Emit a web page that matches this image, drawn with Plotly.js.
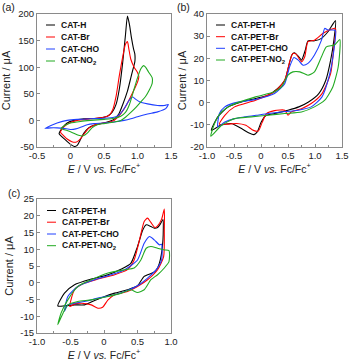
<!DOCTYPE html>
<html>
<head>
<meta charset="utf-8">
<script src="https://cdn.plot.ly/plotly-3.0.1.min.js"></script>
<style>
  html, body { margin: 0; padding: 0; background: #fff; }
  #chart { width: 351px; height: 364px; }
</style>
</head>
<body>
<div id="chart"></div>
<script>
// ---- data: panel (a), CAT monomers ----
const aNames = ['CAT-H', 'CAT-Br', 'CAT-CHO', 'CAT-NO<sub>2</sub>'];
const aE_H  = [-0.17,-0.12,-0.05,0.05,0.2,0.4,0.55,0.62,0.68,0.73,0.78,0.82,0.85,0.88,0.91,0.94,0.96,0.96,0.93,0.9,0.85,0.78,0.72,0.65,0.55,0.45,0.35,0.27,0.2,0.14,0.1,0.06,0.0,-0.08,-0.17];
const aI_H  = [-25,-14,-5,0,3,4,8,15,30,60,110,160,196,180,155,135,125,110,95,80,55,30,12,2,-3,-6,-9,-14,-24,-38,-47,-49,-45,-36,-25];
const aE_Br = [-0.15,-0.1,0,0.1,0.3,0.5,0.58,0.63,0.68,0.73,0.78,0.82,0.85,0.87,0.9,0.95,1.0,1.02,1.0,0.95,0.9,0.84,0.78,0.72,0.65,0.55,0.45,0.35,0.27,0.2,0.13,0.08,0.02,-0.05,-0.1,-0.15];
const aI_Br = [-22,-12,-4,0,3,6,10,20,45,85,120,143,148,135,115,100,90,82,72,58,45,30,18,8,0,-4,-6,-9,-15,-26,-37,-41,-40,-35,-29,-22];
const aE_CHO = [-0.38,-0.3,-0.2,-0.05,0.1,0.3,0.5,0.65,0.72,0.8,0.86,0.9,0.93,0.97,1.03,1.15,1.3,1.4,1.46,1.42,1.3,1.15,1.0,0.9,0.8,0.65,0.5,0.35,0.25,0.15,0.08,0.0,-0.1,-0.2,-0.3,-0.38];
const aI_CHO = [-15,-10,-5,0,2,3,4,6,10,22,35,42,44,40,35,31,28,28,30,22,16,12,7,3,0,-3,-5,-6,-8,-13,-16,-17,-15,-14,-14,-15];
const aE_NO2 = [-0.14,-0.08,0,0.15,0.3,0.5,0.65,0.75,0.82,0.88,0.94,1.0,1.05,1.09,1.12,1.17,1.22,1.22,1.18,1.12,1.05,0.98,0.9,0.82,0.75,0.65,0.5,0.4,0.32,0.25,0.19,0.12,0.03,-0.05,-0.14];
const aI_NO2 = [-15,-9,-5,-2,0,2,4,8,15,30,55,80,97,103,100,90,80,70,58,45,35,25,15,6,0,-3,-6,-8,-14,-24,-29,-28,-23,-19,-15];

// ---- data: panel (b), CAT-PET polymers ----
const bNames = ['CAT-PET-H', 'CAT-PET-Br', 'CAT-PET-CHO', 'CAT-PET-NO<sub>2</sub>'];
const bE_H  = [-0.92,-0.8,-0.61,-0.36,-0.1,0.13,0.31,0.44,0.51,0.57,0.62,0.7,0.75,0.82,0.87,0.99,1.12,1.24,1.38,1.35,1.29,1.2,1.07,0.88,0.7,0.5,0.25,0.08,0.0,-0.07,-0.13,-0.22,-0.36,-0.55,-0.75,-0.92];
const bI_H  = [-12.5,-6.4,-1.9,0.3,1.9,3.4,6.4,10.1,16.2,21.5,22.5,20.7,19.2,23.7,27.9,27.9,29,32,37,28.2,19.2,10.1,4.1,0.3,-1.9,-3.4,-4.9,-6,-9,-13.2,-14.4,-13.7,-11.7,-9.4,-10.2,-12.5];
const bE_Br = [-0.77,-0.67,-0.49,-0.1,0.25,0.44,0.53,0.59,0.65,0.75,0.81,0.87,0.99,1.15,1.3,1.38,1.35,1.29,1.13,0.93,0.75,0.56,0.5,0.44,0.25,0.1,0.02,-0.05,-0.14,-0.28,-0.45,-0.62,-0.77];
const bI_Br = [-9.7,-5.7,-1.9,1.1,4.9,10.1,18.4,22.2,21.9,18.4,20.7,27.5,28.2,31.3,33.1,33.5,25.2,13.2,4.1,-0.4,-2.7,-4.2,-5.7,-3.4,-3.6,-5,-9,-12.8,-12.5,-10.2,-9.4,-9.7,-9.7];
const bE_CHO = [-0.8,-0.77,-0.67,-0.49,-0.1,0.25,0.44,0.53,0.61,0.69,0.78,0.87,0.99,1.12,1.18,1.24,1.33,1.38,1.35,1.26,1.13,0.93,0.69,0.38,0.13,-0.09,-0.3,-0.49,-0.67,-0.8];
const bI_CHO = [-11,-4.9,-1.9,-0.1,1.4,4.1,8.6,16.2,20.4,19.2,16.9,17.7,21.5,28.2,33.5,32.8,32.8,32.5,23.7,11.7,2.6,-1.9,-3.4,-4.2,-4.9,-5.7,-6.4,-7.2,-8.7,-11];
const bE_NO2 = [-0.93,-0.86,-0.73,-0.55,-0.1,0.25,0.38,0.5,0.59,0.72,0.87,0.99,1.12,1.21,1.36,1.46,1.43,1.33,1.18,0.99,0.75,0.44,0.13,-0.18,-0.49,-0.73,-0.93];
const bI_NO2 = [-15.2,-9.4,-4.2,-1.2,2.6,4.9,7.1,12.4,13.9,13.9,12.4,13.9,20.7,25.2,26,28.5,16.2,7.1,1.1,-1.9,-4.2,-4.9,-5.7,-6.4,-7.2,-10.2,-15.2];

// ---- data: panel (c), CAT-PET polymers ----
const cNames = bNames;
const cE_H  = [-0.69,-0.59,-0.44,-0.19,0.06,0.26,0.4,0.5,0.58,0.63,0.7,0.75,0.8,0.84,0.88,0.88,0.84,0.8,0.75,0.6,0.5,0.35,0.16,0.01,-0.14,-0.29,-0.44,-0.59,-0.69];
const cI_H  = [-6.9,-3.1,-0.6,1.1,2.4,4.1,5.8,10.8,15.8,17.3,16.8,16.3,16.5,17.5,18.9,12.8,6.8,4.4,3.2,1.9,-0.9,-2.1,-3.1,-4.1,-5.3,-6.6,-6.6,-6.9,-6.9];
const cE_Br = [-0.51,-0.44,-0.29,-0.09,0.16,0.35,0.45,0.53,0.6,0.65,0.7,0.76,0.8,0.86,0.9,0.9,0.89,0.8,0.65,0.5,0.35,0.16,0.06,-0.02,-0.09,-0.19,-0.34,-0.44,-0.51];
const cI_Br = [-7.1,-2.1,-0.1,1.1,2.4,3.9,6.8,12.8,18.3,19.3,18,16.5,17,19,22,15.8,7.8,3.9,0.9,-1.1,-2.6,-3.6,-5.1,-7.3,-7.6,-6.6,-6.1,-6.3,-7.1];
const cE_CHO = [-0.59,-0.54,-0.39,-0.14,0.11,0.31,0.5,0.6,0.68,0.75,0.83,0.86,0.86,0.78,0.65,0.5,0.35,0.16,-0.09,-0.29,-0.44,-0.54,-0.59];
const cI_CHO = [-8.5,-4.1,-1.1,0.9,2.4,3.9,6.8,11.8,13.8,12.8,11.3,11.5,6.8,3.9,1.4,-0.9,-2.3,-3.6,-4.6,-5.6,-6.1,-6.6,-8.5];
const cE_NO2 = [-0.69,-0.64,-0.54,-0.39,-0.19,0.06,0.31,0.45,0.55,0.63,0.7,0.8,0.9,0.97,0.97,0.9,0.8,0.7,0.6,0.5,0.4,0.26,0.06,-0.19,-0.39,-0.54,-0.61,-0.69];
const cI_NO2 = [-12.5,-9,-5.1,-1.1,0.9,2.9,3.9,4.4,6.8,10.3,10.8,10.3,9.8,9.6,6.3,4.4,2.4,0.9,-2.1,-2.9,-2.1,-3.1,-4.1,-5.1,-5.6,-6.6,-9,-12.5];

const lineColors = ['#000000', '#ff0000', '#2040ff', '#22aa22'];

// tick labels
const aXticks = [-0.5, 0, 0.5, 1.0, 1.5];
const aXtext  = ['-0.5', '0', '0.5', '1.0', '1.5'];
const aYticks = [-50, 0, 50, 100, 150, 200];
const aYtext  = ['-50', '0', '50', '100', '150', '200'];
const bXticks = [-1.0, -0.5, 0, 0.5, 1.0, 1.5];
const bXtext  = ['-1.0', '-0.5', '0', '0.5', '1.0', '1.5'];
const bYticks = [-20, -10, 0, 10, 20, 30, 40];
const bYtext  = ['-20', '-10', '0', '10', '20', '30', '40'];
const cXticks = [-1.0, -0.5, 0, 0.5, 1.0];
const cXtext  = ['-1.0', '-0.5', '0', '0.5', '1.0'];
const cYticks = [-15, -10, -5, 0, 5, 10, 15, 20, 25];
const cYtext  = ['-15', '-10', '-5', '0', '5', '10', '15', '20', '25'];

// ---- layout helpers ----
const W = 351, H = 364;
const px = (x) => x / W;
const py = (y) => 1 - y / H;
const FONT = 'Arial, "Liberation Sans", sans-serif';
const frameColor = '#8a8a8a';

const mkTrace = (x, y, color, ax) => ({
  x: x, y: y, type: 'scatter', mode: 'lines',
  line: { color: color, width: 1.1, shape: 'spline', smoothing: 0.6 },
  xaxis: 'x' + ax, yaxis: 'y' + ax,
  showlegend: false, hoverinfo: 'skip'
});

const traces = [
  mkTrace(aE_H, aI_H, lineColors[0], ''),
  mkTrace(aE_Br, aI_Br, lineColors[1], ''),
  mkTrace(aE_CHO, aI_CHO, lineColors[2], ''),
  mkTrace(aE_NO2, aI_NO2, lineColors[3], ''),
  mkTrace(bE_H, bI_H, lineColors[0], '2'),
  mkTrace(bE_Br, bI_Br, lineColors[1], '2'),
  mkTrace(bE_CHO, bI_CHO, lineColors[2], '2'),
  mkTrace(bE_NO2, bI_NO2, lineColors[3], '2'),
  mkTrace(cE_H, cI_H, lineColors[0], '3'),
  mkTrace(cE_Br, cI_Br, lineColors[1], '3'),
  mkTrace(cE_CHO, cI_CHO, lineColors[2], '3'),
  mkTrace(cE_NO2, cI_NO2, lineColors[3], '3')
];

const xTitle = '<i>E</i> / V <i>vs.</i> Fc/Fc<sup>+</sup>';

const xAxis = (dom, range, vals, text, anchor) => ({
  domain: dom, range: range, anchor: anchor,
  tickmode: 'array', tickvals: vals, ticktext: text,
  ticks: 'inside', ticklen: 3, tickcolor: frameColor,
  minor: { ticks: 'inside', ticklen: 2, dtick: 0.25, tick0: 0, tickcolor: frameColor },
  showline: true, mirror: true, linecolor: frameColor, linewidth: 1,
  showgrid: false, zeroline: false,
  tickfont: { family: FONT, size: 9.5, color: '#222' },
  title: { text: xTitle, font: { family: FONT, size: 10.5, color: '#222' }, standoff: 4 }
});

const yAxis = (dom, range, vals, text, anchor, standoff) => ({
  domain: dom, range: range, anchor: anchor,
  tickmode: 'array', tickvals: vals, ticktext: text,
  ticks: 'inside', ticklen: 3, tickcolor: frameColor,
  showline: true, mirror: true, linecolor: frameColor, linewidth: 1,
  showgrid: false, zeroline: false,
  tickfont: { family: FONT, size: 9.5, color: '#222' },
  title: { text: 'Current / μA', font: { family: FONT, size: 11, color: '#222' }, standoff: standoff }
});

// hand-made legends (compact spacing like the figure)
const annotations = [];
const shapes = [];
const addLegend = (names, lineX0, lineX1, textX, rowsY) => {
  names.forEach((n, i) => {
    shapes.push({
      type: 'line', xref: 'paper', yref: 'paper',
      x0: px(lineX0), x1: px(lineX1), y0: py(rowsY[i]), y1: py(rowsY[i]),
      line: { color: lineColors[i], width: 1 }
    });
    annotations.push({
      text: n, xref: 'paper', yref: 'paper',
      x: px(textX), y: py(rowsY[i]), xanchor: 'left', yanchor: 'middle',
      showarrow: false, font: { family: FONT, size: 8.5, color: '#111', weight: 'bold' }
    });
  });
};
addLegend(aNames, 46, 55, 59, [25, 37, 49, 61]);
addLegend(bNames, 216, 225, 229, [25, 36.7, 48.3, 60]);
addLegend(cNames, 47, 56, 60, [210.5, 222.2, 234, 245.7]);

const panelLabel = (t, x, y) => annotations.push({
  text: t, xref: 'paper', yref: 'paper', x: px(x), y: py(y),
  xanchor: 'left', yanchor: 'middle', showarrow: false,
  font: { family: FONT, size: 10.5, color: '#222' }
});
panelLabel('(a)', 0, 7);
panelLabel('(b)', 175, 7);
panelLabel('(c)', 6, 193);

const layout = {
  width: W, height: H,
  margin: { l: 0, r: 0, t: 0, b: 0 },
  paper_bgcolor: '#fff', plot_bgcolor: '#fff',
  showlegend: false,
  xaxis: xAxis([px(37), px(171)], [-0.5, 1.5], aXticks, aXtext, 'y'),
  yaxis: yAxis([py(147), py(14)], [-50, 200], aYticks, aYtext, 'x', 6),
  xaxis2: xAxis([px(207), px(342)], [-1.0, 1.5], bXticks, bXtext, 'y2'),
  yaxis2: yAxis([py(147), py(14)], [-20, 40], bYticks, bYtext, 'x2', 1),
  xaxis3: xAxis([px(37), px(171)], [-1.0, 1.0], cXticks, cXtext, 'y3'),
  yaxis3: yAxis([py(333), py(199)], [-15, 25], cYticks, cYtext, 'x3', 4),
  annotations: annotations,
  shapes: shapes
};

Plotly.newPlot('chart', traces, layout, { staticPlot: true, displayModeBar: false });
</script>
</body>
</html>
